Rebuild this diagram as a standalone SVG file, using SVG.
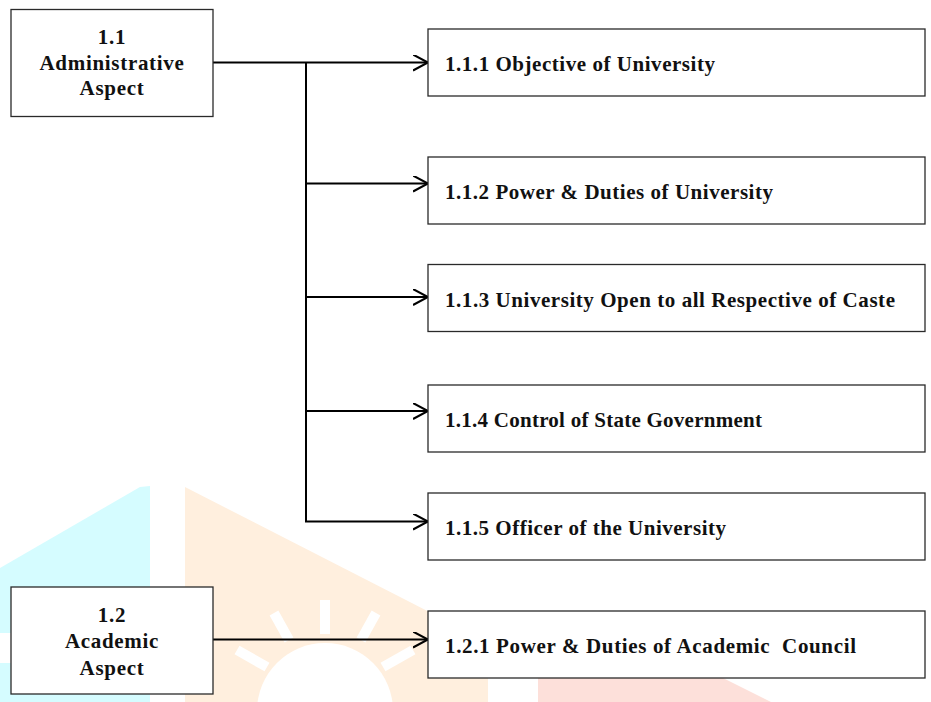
<svg xmlns="http://www.w3.org/2000/svg" width="931" height="702" viewBox="0 0 931 702">
  <style>
    .box { fill: #ffffff; stroke: #2a2a2a; stroke-width: 1.3; }
    .lbl { font-family: "Liberation Serif", "Times New Roman", serif; font-weight: bold; font-size: 21px; fill: #111111; }
    .mid { text-anchor: middle; letter-spacing: 0.7px; }
    .wire { fill: none; stroke: #000000; stroke-width: 2; }
    .ray { stroke: #ffffff; stroke-width: 10; }
  </style>
  <defs>
    <marker id="open-arrow" markerWidth="18" markerHeight="20" refX="15" refY="8" orient="auto" markerUnits="userSpaceOnUse">
      <path d="M0,0 L15,8 L0,16" fill="none" stroke="#000000" stroke-width="2"/>
    </marker>
  </defs>

  <rect width="931" height="702" fill="#ffffff"/>

  <!-- faint background emblem -->
  <g id="emblem">
    <polygon points="0,568 140,487 150,486 150,702 0,702" fill="#d5fcff"/>
    <rect x="0" y="633" width="11" height="30" fill="#ffffff"/>
    <polygon points="185,487 488,642 488,702 185,702" fill="#ffefde"/>
    <polygon points="538,650 667,650 771,702 538,702" fill="#fde0da"/>
    <circle cx="325" cy="711" r="68" fill="#ffffff"/>
    <line class="ray" x1="325" y1="600" x2="325" y2="634"/>
    <line class="ray" x1="274" y1="613" x2="289" y2="640"/>
    <line class="ray" x1="376" y1="613" x2="361" y2="640"/>
    <line class="ray" x1="237" y1="650" x2="267" y2="667"/>
    <line class="ray" x1="413" y1="650" x2="383" y2="667"/>
  </g>

  <!-- connectors -->
  <g id="connectors">
    <line class="wire" x1="213" y1="62.5" x2="428" y2="62.5" marker-end="url(#open-arrow)"/>
    <line class="wire" x1="306" y1="62.5" x2="306" y2="522"/>
    <line class="wire" x1="306" y1="183.5" x2="428" y2="183.5" marker-end="url(#open-arrow)"/>
    <line class="wire" x1="306" y1="297" x2="428" y2="297" marker-end="url(#open-arrow)"/>
    <line class="wire" x1="306" y1="411" x2="428" y2="411" marker-end="url(#open-arrow)"/>
    <line class="wire" x1="305" y1="521.5" x2="428" y2="521.5" marker-end="url(#open-arrow)"/>
    <line class="wire" x1="213" y1="639.5" x2="428" y2="639.5" marker-end="url(#open-arrow)"/>
  </g>

  <g id="n1-1">
    <rect class="box" x="11" y="9.5" width="202" height="107"/>
    <text class="lbl mid" x="112" y="43.5">1.1</text>
    <text class="lbl mid" x="112" y="70">Administrative</text>
    <text class="lbl mid" x="112" y="95">Aspect</text>
  </g>

  <g id="n1-2">
    <rect class="box" x="11" y="587" width="202" height="107"/>
    <text class="lbl mid" x="112" y="621.5">1.2</text>
    <text class="lbl mid" x="112" y="648">Academic</text>
    <text class="lbl mid" x="112" y="674.5">Aspect</text>
  </g>

  <g id="n1-1-1">
    <rect class="box" x="428" y="29" width="497" height="67"/>
    <text class="lbl" x="445" y="71" textLength="270" lengthAdjust="spacing">1.1.1 Objective of University</text>
  </g>

  <g id="n1-1-2">
    <rect class="box" x="428" y="157" width="497" height="67"/>
    <text class="lbl" x="445" y="198.5" textLength="328" lengthAdjust="spacing">1.1.2 Power &amp; Duties of University</text>
  </g>

  <g id="n1-1-3">
    <rect class="box" x="428" y="264.5" width="497" height="67"/>
    <text class="lbl" x="445" y="306.5" textLength="450" lengthAdjust="spacing">1.1.3 University Open to all Respective of Caste</text>
  </g>

  <g id="n1-1-4">
    <rect class="box" x="428" y="385" width="497" height="67"/>
    <text class="lbl" x="445" y="426.5" textLength="317" lengthAdjust="spacing">1.1.4 Control of State Government</text>
  </g>

  <g id="n1-1-5">
    <rect class="box" x="428" y="493" width="497" height="67"/>
    <text class="lbl" x="445" y="535" textLength="281" lengthAdjust="spacing">1.1.5 Officer of the University</text>
  </g>

  <g id="n1-2-1">
    <rect class="box" x="428" y="611" width="497" height="67"/>
    <text class="lbl" x="445" y="652.5" textLength="411" lengthAdjust="spacing" xml:space="preserve">1.2.1 Power &amp; Duties of Academic  Council</text>
  </g>
</svg>
